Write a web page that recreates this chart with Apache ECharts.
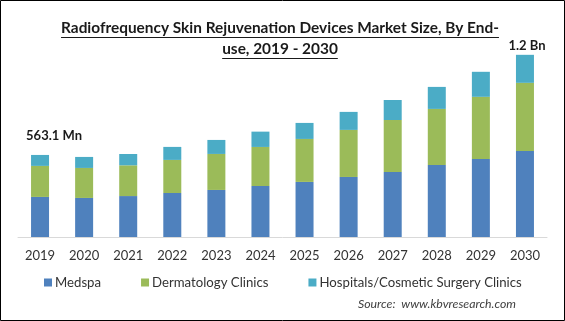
<!DOCTYPE html>
<html><head><meta charset="utf-8">
<script src="https://cdn.jsdelivr.net/npm/echarts@6/dist/echarts.min.js"></script>
<style>html,body{margin:0;padding:0;background:#fff}#c{width:565px;height:321px}</style>
</head><body><div id="c"></div>
<script>
const years = ['2019','2020','2021','2022','2023','2024','2025','2026','2027','2028','2029','2030'];
const medspa = [275, 268, 281, 302, 323, 350, 378, 412, 446, 494, 536, 591];
const dermatology = [213, 206, 211, 227, 247, 268, 295, 323, 357, 385, 426, 467];
const hospitals = [75.1, 75.5, 77.6, 89.3, 96.1, 105.1, 109.9, 123.6, 137.3, 151.1, 171.7, 192.3];
const seriesNames = ['Medspa', 'Dermatology Clinics', 'Hospitals/Cosmetic Surgery Clinics'];
const endLabels = {0: '563.1 Mn', 11: '1.2 Bn'};
const titleLines = ['Radiofrequency Skin Rejuvenation Devices Market Size, By End-', 'use, 2019 - 2030'];
const sourceText = 'Source:  www.kbvresearch.com';

const FONT = 'Lato';
const TITLE_FONT = 'bold 15.4px Lato';
const chart = echarts.init(document.getElementById('c'), null, {renderer: 'canvas'});

const topData = hospitals.map((v, i) => {
  if (endLabels[i] === undefined) return v;
  return {
    value: v,
    label: {
      show: true, position: 'top', formatter: endLabels[i],
      fontFamily: FONT, fontWeight: 'bold', fontSize: 13, color: '#1a1a1a',
      offset: i === 0 ? [14, -8] : [2, 2]
    }
  };
});

const ctx = document.createElement('canvas').getContext('2d');
ctx.font = TITLE_FONT;
const w1 = ctx.measureText(titleLines[0]).width;
const w2 = ctx.measureText(titleLines[1]).width;
const W = 565, CX = 280;

chart.setOption({
  animation: false,
  textStyle: {fontFamily: FONT},
  grid: {left: 18, right: 18, top: 33, bottom: 84},
  xAxis: {
    type: 'category', data: years,
    axisLine: {lineStyle: {color: '#d9d9d9'}},
    axisTick: {show: false},
    axisLabel: {color: '#333', fontSize: 13, fontFamily: FONT, margin: 12}
  },
  yAxis: {type: 'value', min: 0, max: 1400, show: false, splitLine: {show: false}},
  legend: {
    left: 39, top: 271, itemWidth: 8, itemHeight: 8, itemGap: 40,
    icon: 'rect',
    textStyle: {fontFamily: FONT, fontSize: 13.2, color: '#333', padding: [0, 0, 0, -2]},
    data: seriesNames
  },
  series: [
    {name: seriesNames[0], type: 'bar', stack: 't', data: medspa, barWidth: 18, itemStyle: {color: '#4F81BD'}},
    {name: seriesNames[1], type: 'bar', stack: 't', data: dermatology, barWidth: 18, itemStyle: {color: '#9BBB59'}},
    {name: seriesNames[2], type: 'bar', stack: 't', data: topData, barWidth: 18, itemStyle: {color: '#4BACC6'}}
  ],
  graphic: [
    {type: 'rect', shape: {x: 0.5, y: 0.5, width: 564, height: 320}, style: {fill: 'none', stroke: '#000', lineWidth: 1}, silent: true},
    {type: 'text', x: CX, y: 21, style: {text: titleLines[0], font: TITLE_FONT, fill: '#1a1a1a', align: 'center'}},
    {type: 'text', x: CX, y: 42, style: {text: titleLines[1], font: TITLE_FONT, fill: '#1a1a1a', align: 'center'}},
    {type: 'line', shape: {x1: CX - w1 / 2, y1: 37.5, x2: CX + w1 / 2, y2: 37.5}, style: {stroke: '#1a1a1a', lineWidth: 1}},
    {type: 'line', shape: {x1: CX - w2 / 2, y1: 58.5, x2: CX + w2 / 2, y2: 58.5}, style: {stroke: '#1a1a1a', lineWidth: 1}},
    {type: 'text', right: 49, top: 298, style: {text: sourceText, font: 'italic 12.3px Lato', fill: '#404040'}}
  ]
});
</script>
</body></html>
